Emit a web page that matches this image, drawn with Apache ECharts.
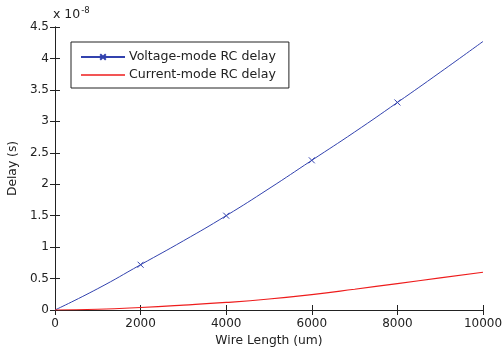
<!DOCTYPE html>
<html><head><meta charset="utf-8">
<script src="https://cdn.jsdelivr.net/npm/echarts@6/dist/echarts.min.js"></script>
<style>html,body{margin:0;padding:0;background:#fff}#c{width:503px;height:352px}</style>
</head><body><div id="c"></div>
<script>
var wireLength = [0,1000,2000,3000,4000,5000,6000,7000,8000,9000,10000];
var voltageDelay = [0,0.34,0.72,1.1,1.5,1.93,2.38,2.83,3.3,3.78,4.27];
var currentDelay = [0,0.012,0.04,0.077,0.12,0.175,0.245,0.33,0.42,0.51,0.6];
var markerAt = [2000,4000,6000,8000];
var yTicks = [0,0.5,1,1.5,2,2.5,3,3.5,4,4.5];
var xTicks = [0,2000,4000,6000,8000,10000];

var FONT = 'DejaVu Sans';
var XSYM = 'path://M0,0L10,10M10,0L0,10';
var blue = '#3242ae', red = '#ee1c1c';

function pairs(xs, ys, marks){
  return xs.map(function(x,i){
    var it = {value:[x, ys[i]]};
    if (marks && marks.indexOf(x) < 0) it.symbol = 'none';
    return it;
  });
}
var axCommon = {
  axisLine:{show:true, lineStyle:{color:'#222', width:1}},
  axisTick:{show:true, inside:true, length:5, lineStyle:{color:'#222'}},
  splitLine:{show:false}
};
var chart = echarts.init(document.getElementById('c'));
chart.setOption({
  animation:false,
  grid:{left:55, right:20, top:27, bottom:42, outerBoundsMode:'none', containLabel:false},
  title:{text:'x 10{s|-8}', left:53, top:6, padding:0,
    textStyle:{fontFamily:FONT, fontSize:12.5, fontWeight:'normal', color:'#222',
      rich:{s:{fontSize:8.5, verticalAlign:'top', padding:[0,0,9,1], fontFamily:FONT, color:'#222'}}}},
  legend:{
    orient:'vertical', left:71, top:42,
    padding:[8,13,6,9], itemGap:4, itemWidth:44, itemHeight:7,
    borderColor:'#222', borderWidth:1, backgroundColor:'#fff', borderRadius:0,
    textStyle:{fontFamily:FONT, fontSize:12.6, color:'#222', padding:[0,0,0,-1], lineHeight:14},
    data:[
      {name:'Voltage-mode RC delay'},
      {name:'Current-mode RC delay', icon:'path://M0,0H44V1.3H0Z'}
    ]
  },
  xAxis:[
    Object.assign({type:'value', min:0, max:10000, interval:2000, position:'bottom',
      axisLabel:{fontFamily:FONT, fontSize:12, color:'#222', margin:8, formatter:function(v){return String(v);}},
      name:'Wire Length (um)', nameLocation:'middle', nameGap:24,
      nameTextStyle:{fontFamily:FONT, fontSize:12.3, color:'#222'}}, axCommon),
    Object.assign({type:'value', min:0, max:10000, interval:2000, position:'top',
      axisLabel:{show:false}}, axCommon)
  ],
  yAxis:[
    Object.assign({type:'value', min:0, max:4.5, interval:0.5, position:'left',
      axisLabel:{fontFamily:FONT, fontSize:12, color:'#222', margin:6},
      name:'Delay (s)', nameLocation:'middle', nameGap:30, nameRotate:90,
      nameTextStyle:{fontFamily:FONT, fontSize:12.3, color:'#222'}}, axCommon),
    Object.assign({type:'value', min:0, max:4.5, interval:0.5, position:'right',
      axisLabel:{show:false}}, axCommon)
  ],
  series:[
    {name:'Voltage-mode RC delay', type:'line', smooth:true, data:pairs(wireLength, voltageDelay, markerAt),
      symbol:XSYM, symbolSize:6, showSymbol:true,
      lineStyle:{color:blue, width:1}, itemStyle:{color:'none', borderColor:blue, borderWidth:1}},
    {name:'Current-mode RC delay', type:'line', smooth:true, data:pairs(wireLength, currentDelay, null),
      symbol:'none', lineStyle:{color:red, width:1.2}, itemStyle:{color:red}}
  ]
});
</script></body></html>
